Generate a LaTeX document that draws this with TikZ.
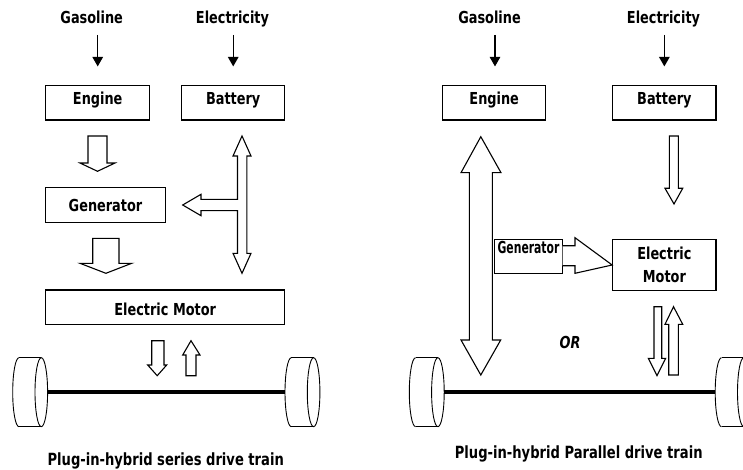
\documentclass[tikz,border=0pt]{standalone}
\usepackage{fontspec}
\newfontfamily\dfont[FakeStretch=0.78]{DejaVu Sans}
\usetikzlibrary{arrows.meta}
\newcommand\mywheel[1]{%
  \begin{scope}[xshift=#1pt]
    \draw[wheelline] (19,357.7) -- (41.3,357.7) (19,426.7) -- (41.3,426.7);
    \draw[wheelline] (41.3,392.2) ellipse [x radius=6.3, y radius=34.5];
    \draw[wheelline] (19,426.7) arc[start angle=90, end angle=270, x radius=6.3, y radius=34.5];
  \end{scope}}
\begin{document}
\begin{tikzpicture}[x=1pt,y=-1pt,
  lbl/.style={font=\dfont\bfseries\fontsize{16.5}{19}\selectfont, inner sep=0pt, anchor=base},
  captxt/.style={font=\dfont\bfseries\fontsize{16.8}{20}\selectfont, inner sep=0pt, anchor=base},
  box/.style={draw=black, line width=1.1pt, inner sep=0pt, anchor=base,
    font=\dfont\bfseries\fontsize{16.5}{19}\selectfont},
  hollow/.style={draw=black, line width=1.1pt, fill=white, line join=miter},
  feed/.style={line width=1.2pt, -{Triangle[width=10.5pt,length=9.5pt]},
    shorten <=11pt, shorten >=18.7pt},
  wheelline/.style={line width=0.9pt},
  axle/.style={line width=4.2pt}]
\useasboundingbox (0,0) rectangle (743,470);
\clip (0,0) rectangle (743,470);

% ---------------- left panel: series ----------------
\node[lbl] (gasL) at (91.7,24) {Gasoline};
\node[lbl] (eleL) at (232.5,24) {Electricity};
\node[box, minimum width=104pt, text height=18.6pt, text depth=15.7pt] (engL) at (97.7,104.3) {Engine};
\node[box, minimum width=103pt, text height=18.6pt, text depth=15.7pt] (batL) at (233.2,104.3) {Battery};
\node[box, minimum width=119.6pt, text height=24pt, text depth=10.6pt] (genL) at (105.5,211.7) {Generator};
\node[box, minimum width=239pt, text height=25pt, text depth=9.7pt] (motL) at (165.2,315) {Electric Motor};

\draw[feed] (gasL.base -| engL.north) -- (engL.north);
\draw[feed] (eleL.base -| batL.north) -- (batL.north);

% engine -> generator
\draw[hollow] (88,136) -- (107,136) -- (107,163) -- (115,163) -- (97.5,171.3)
  -- (80,163) -- (88,163) -- cycle;
% generator -> motor
\draw[hollow] (92.7,238.3) -- (119,238.3) -- (119,263.3) -- (131.7,263.3) -- (105.9,273.3)
  -- (80,263.3) -- (92.7,263.3) -- cycle;
% battery <-> motor with branch to generator
\draw[hollow] (242,136) -- (251,156) -- (246.8,156) -- (246.8,253.3) -- (251,253.3)
  -- (242,273.3) -- (233,253.3) -- (237.5,253.3) -- (237.5,210.6) -- (201,210.6)
  -- (201,215.7) -- (182.7,205) -- (201,194.3) -- (201,199.4) -- (237.5,199.4)
  -- (237.5,156) -- (233,156) -- cycle;
% motor <-> wheels
\draw[hollow] (151.7,340.7) -- (164,340.7) -- (164,365) -- (166.7,365) -- (157.2,375.7)
  -- (147.7,365) -- (151.7,365) -- cycle;
\draw[hollow] (186,375.7) -- (196,375.7) -- (196,355) -- (200,355) -- (191,340.7)
  -- (182.7,355) -- (186,355) -- cycle;

\mywheel{0}
\mywheel{272.3}
\draw[axle] (47.7,392.2) -- (285,392.2);

\node[captxt] (capL) at (165.7,465) {Plug-in-hybrid series drive train};

% ---------------- right panel: parallel ----------------
\node[lbl] (gasR) at (489.5,24) {Gasoline};
\node[lbl] (eleR) at (663.5,24) {Electricity};
\node[box, minimum width=103pt, text height=18.6pt, text depth=15.7pt] (engR) at (494.2,104.3) {Engine};
\node[box, minimum width=103.3pt, text height=18.6pt, text depth=15.7pt] (batR) at (664.35,104.3) {Battery};
\node[box, minimum width=68.4pt, text height=14pt, text depth=20pt] (genR) at (528.5,253.3) {\scalebox{0.84}[1]{Generator}};
\node[draw=black, line width=1.1pt, inner sep=0pt, minimum width=103.3pt, minimum height=51.4pt,
  align=center, font=\dfont\bfseries\fontsize{16.5}{23.4}\selectfont] (motR) at (664.35,265) {Electric\\Motor};

\draw[feed] ([xshift=0.8pt]gasR.base -| engR.north) -- ([xshift=0.8pt]engR.north);
\draw[feed] (eleR.base -| batR.north) -- (batR.north);

% engine <-> wheels
\draw[hollow] (480.8,136.7) -- (501,172.7) -- (492.3,172.7) -- (492.3,340) -- (500.7,340)
  -- (480.8,375) -- (461,340) -- (469.3,340) -- (469.3,172.7) -- (461,172.7) -- cycle;
% battery -> motor
\draw[hollow] (669.3,136) -- (678.3,136) -- (678.3,188.3) -- (682.7,188.3) -- (674,204)
  -- (665,188.3) -- (669.3,188.3) -- cycle;
% generator -> motor
\draw[hollow] (562.7,245.7) -- (575,245.7) -- (575,237.7) -- (motR.west) -- (575,273.3)
  -- (575,265.7) -- (562.7,265.7);
% motor <-> wheels
\draw[hollow] (654,306.7) -- (661.7,306.7) -- (661.7,358.3) -- (665.7,358.3) -- (657,375.7)
  -- (648.3,358.3) -- (654,358.3) -- cycle;
\draw[hollow] (668.7,375) -- (678.3,375) -- (678.3,324.3) -- (682.7,324.3) -- (673.5,306.7)
  -- (665,324.3) -- (668.7,324.3) -- cycle;

\node[lbl, font=\dfont\bfseries\itshape\fontsize{16.5}{19}\selectfont] (or) at (570,348.3) {OR};

\mywheel{396.6}
\mywheel{702.5}
\draw[axle] (444.3,392.2) -- (715.2,392.2);

\node[captxt] (capR) at (578.7,458.3) {Plug-in-hybrid Parallel drive train};
\end{tikzpicture}
\end{document}
